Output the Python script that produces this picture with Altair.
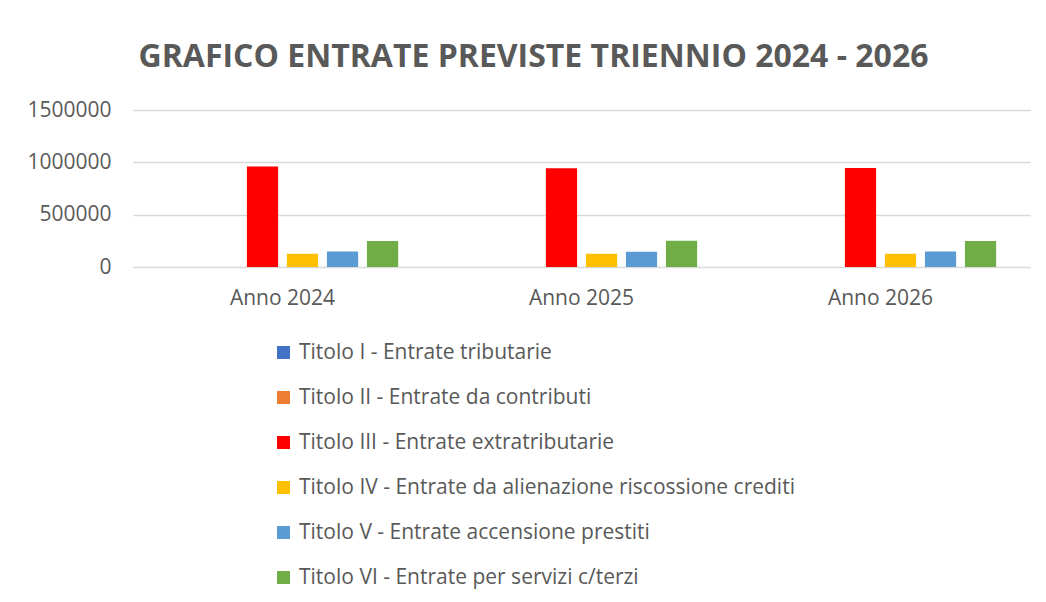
import altair as alt
import pandas as pd

years = ["Anno 2024", "Anno 2025", "Anno 2026"]
series = [
    "Titolo I - Entrate tributarie",
    "Titolo II - Entrate da contributi",
    "Titolo III - Entrate extratributarie",
    "Titolo IV - Entrate da alienazione riscossione crediti",
    "Titolo V - Entrate accensione prestiti",
    "Titolo VI - Entrate per servizi c/terzi",
]
titolo_1 = [0, 0, 0]
titolo_2 = [0, 0, 0]
titolo_3 = [960000, 943000, 946000]
titolo_4 = [126000, 127000, 126000]
titolo_5 = [147000, 146000, 147000]
titolo_6 = [249000, 250000, 249000]
colors = ["#4472C4", "#ED7D31", "#FF0000", "#FFC000", "#5B9BD5", "#70AD47"]
y_ticks = [0, 500000, 1000000, 1500000]

all_vals = [titolo_1, titolo_2, titolo_3, titolo_4, titolo_5, titolo_6]
rows = []
for s, vals in zip(series, all_vals):
    for yr, v in zip(years, vals):
        rows.append({"Anno": yr, "Serie": s, "Valore": v})
df = pd.DataFrame(rows)

FONT = "Open Sans"
TXT = "#595959"

chart = alt.Chart(df).mark_bar().encode(
    x=alt.X("Anno:N", sort=years,
            scale=alt.Scale(paddingInner=0.197, paddingOuter=0.0985),
            axis=alt.Axis(title=None, labelAngle=0, ticks=False, domain=False, grid=False,
                          labelPadding=20, labelFontSize=21, labelColor=TXT, labelFont=FONT)),
    xOffset=alt.XOffset("Serie:N", sort=series,
                        scale=alt.Scale(paddingInner=0.22, paddingOuter=0.11)),
    y=alt.Y("Valore:Q", scale=alt.Scale(domain=[0, 1500000]),
            axis=alt.Axis(values=y_ticks, format="d", title=None, ticks=False, domain=False,
                          labelPadding=22, labelFontSize=21, labelColor=TXT, labelFont=FONT,
                          gridColor="#d9d9d9", gridWidth=1.5)),
    color=alt.Color("Serie:N", sort=series,
                    scale=alt.Scale(domain=series, range=colors),
                    legend=alt.Legend(title=None, orient="none", legendX=140, legendY=232,
                                      direction="vertical", symbolType="square", symbolSize=170,
                                      symbolStrokeWidth=0,
                                      labelFontSize=21, labelColor=TXT, labelFont=FONT,
                                      labelLimit=0, rowPadding=23, labelOffset=5)),
).properties(
    width=897, height=157,
    padding={"left": 125, "top": 102, "right": 8, "bottom": 327},
    autosize=alt.AutoSizeParams(type="none"),
    background="white",
    title=alt.TitleParams("GRAFICO ENTRATE PREVISTE TRIENNIO 2024 - 2026",
                          fontSize=32, fontWeight="bold", color=TXT, font=FONT,
                          anchor="middle", dx=-48, offset=25),
).configure_view(stroke=None)

chart.save("out.html", embed_options={"renderer": "svg", "actions": False})
